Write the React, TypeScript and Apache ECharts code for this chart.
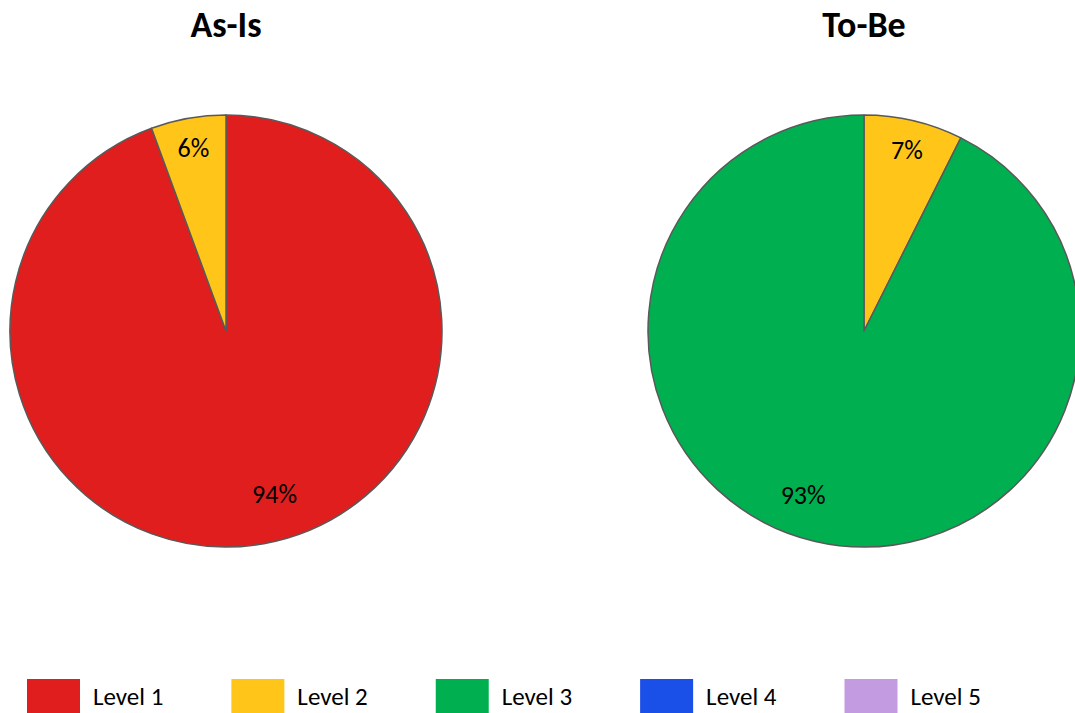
import React, { useEffect, useRef } from "react";
import * as echarts from "echarts";

const levels = ["Level 1", "Level 2", "Level 3", "Level 4", "Level 5"];
const levelColors = ["#E01E1E", "#FFC619", "#00B050", "#1A4FE8", "#C39BE0"];

const asIsNames = ["Level 1", "Level 2"];
const asIsValues = [94.4, 5.6];
const toBeNames = ["Level 2", "Level 3"];
const toBeValues = [7.4, 92.6];

const titles = ["As-Is", "To-Be"];
const FONT = "Carlito, Calibri, Lato, 'Noto Sans', sans-serif";

function colorOf(name: string) {
  return levelColors[levels.indexOf(name)];
}

function makeData(names: string[], values: number[]) {
  return names.map((n, i) => ({ name: n, value: values[i], itemStyle: { color: colorOf(n) } }));
}

function makePlainData(names: string[], values: number[]) {
  return names.map((n, i) => ({ name: n, value: values[i] }));
}

export default function App() {
  const ref = useRef<HTMLDivElement>(null);
  useEffect(() => {
    if (!ref.current) return;
    const chart = echarts.init(ref.current, null, { renderer: "svg" });
    const centers = [
      [226, 331],
      [864, 331],
    ];
    const R = 216;
    const bigShift = [
      [16, -20],
      [-18, -17],
    ];
    const sets = [
      { names: asIsNames, values: asIsValues },
      { names: toBeNames, values: toBeValues },
    ];
    const mainSeries = sets.map((s, k) => ({
      type: "pie",
      name: titles[k],
      center: centers[k],
      radius: R,
      startAngle: 90,
      clockwise: true,
      percentPrecision: 0,
      label: { show: false },
      labelLine: { show: false },
      emphasis: { disabled: true },
      itemStyle: { borderColor: "#595959", borderWidth: 1.5 },
      data: makeData(s.names, s.values),
    }));
    const labelSeries = sets.map((s, k) => ({
      type: "pie",
      name: titles[k] + " labels",
      center: centers[k],
      radius: [150, R],
      startAngle: 90,
      clockwise: true,
      silent: true,
      legendHoverLink: false,
      percentPrecision: 0,
      itemStyle: { color: "rgba(0,0,0,0)", borderWidth: 0 },
      label: {
        show: true,
        position: "inside",
        formatter: "{d}%",
        color: "#000",
        fontSize: 26,
        fontFamily: FONT,
      },
      labelLine: { show: false },
      labelLayout: (p: any) => {
        const v = s.values[p.dataIndex];
        if (v > 50) return { dx: bigShift[k][0], dy: bigShift[k][1] };
        return {};
      },
      emphasis: { disabled: true },
      data: makePlainData(s.names, s.values),
    }));
    const dummySeries = ["Level 4", "Level 5"].map((n) => ({
      type: "pie",
      name: n,
      showEmptyCircle: false,
      itemStyle: { color: colorOf(n) },
      data: [],
    }));
    chart.setOption({
      animation: false,
      backgroundColor: "#ffffff",
      graphic: titles.map((t, k) => ({
        type: "text",
        x: centers[k][0],
        y: 25,
        style: {
          text: t,
          fontSize: 36,
          fontWeight: "bold",
          fontFamily: FONT,
          fill: "#000",
          textAlign: "center",
          textVerticalAlign: "middle",
        },
      })),
      legend: {
        data: levels,
        left: 27,
        top: 679,
        padding: 0,
        itemWidth: 53,
        itemHeight: 34,
        itemGap: 68,
        icon: "rect",
        selectedMode: false,
        itemStyle: { borderWidth: 0 },
        textStyle: { fontSize: 25, fontFamily: FONT, color: "#000", padding: [0, 0, 0, 8] },
      },
      series: [...mainSeries, ...labelSeries, ...dummySeries],
    });
    return () => chart.dispose();
  }, []);
  return (
    <div
      ref={ref}
      style={{ position: "fixed", left: 0, top: 0, width: 1075, height: 713, background: "#fff" }}
    />
  );
}
